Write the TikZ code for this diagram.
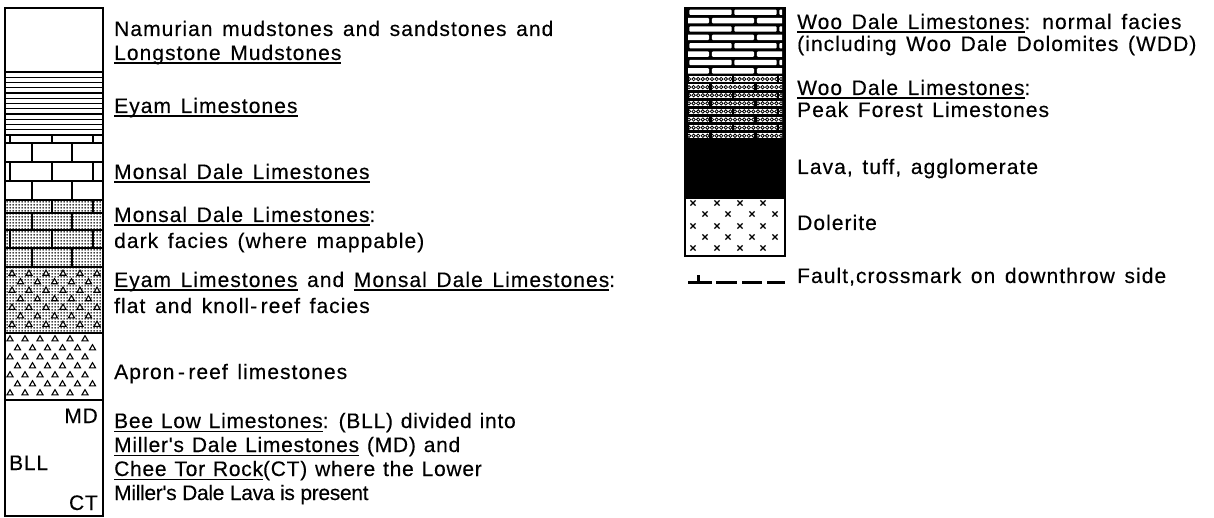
\documentclass[tikz,border=0pt]{standalone}
\usepackage{fontspec}
\usetikzlibrary{patterns}
\newfontfamily\labfont[LetterSpace=5,WordSpace=1.4,FakeBold=0.3]{Liberation Sans}
\newfontfamily\labtight[LetterSpace=3.5,WordSpace=1.2,FakeBold=0.3]{Liberation Sans}
\newfontfamily\labnarrow[LetterSpace=-1.5,WordSpace=1.0,FakeBold=0.3]{Liberation Sans}
\newcommand\ulx[1]{\setbox0\hbox{#1}\rlap{\rule[-3.8pt]{\wd0}{1.3pt}}\box0\relax}
\pgfdeclarepatternformonly{stip}{\pgfqpoint{0pt}{0pt}}{\pgfqpoint{3pt}{3pt}}{\pgfqpoint{3pt}{3pt}}{\pgfpathcircle{\pgfqpoint{1.5pt}{1.5pt}}{1.15pt}\pgfusepath{fill}}
\newcommand\trim[2]{\draw[trist] (#1-3,#2+2.3) -- (#1+3,#2+2.3) -- (#1,#2-2.8) -- cycle;}
\newcommand\xmk[2]{\draw[xst] (#1-2.6,#2-2.6) -- (#1+2.6,#2+2.6) (#1-2.6,#2+2.6) -- (#1+2.6,#2-2.6);}
\begin{document}
\begin{tikzpicture}[x=1pt,y=-1pt,
  lab/.style={anchor=base west,inner sep=0pt,font=\labfont\fontsize{21}{24}\selectfont},
  labB/.style={lab,font=\labtight\fontsize{21}{24}\selectfont},
  labN/.style={lab,font=\labnarrow\fontsize{21}{24}\selectfont},
  labr/.style={labB,anchor=base east},
  box/.style={line width=2.2pt},
  hl/.style={line width=1.3pt},
  trist/.style={line width=1.1pt,fill=white},
  xst/.style={line width=1.3pt},
  fault/.style={line width=3pt}]
\useasboundingbox (0,0) rectangle (1214,518);
\fill[white] (0,0) rectangle (1214,518);
% ---------- left column ----------
% Eyam Limestones: horizontal lines
\foreach \k in {1,...,11} \draw[hl] (5,72+5.25*\k) -- (103,72+5.25*\k);
% Monsal Dale: bricks
\draw[hl] (5,143) -- (103,143) (5,162) -- (103,162) (5,181) -- (103,181);
\draw[hl] (10,135) -- (10,143) (52,135) -- (52,143) (93,135) -- (93,143)
          (32,143) -- (32,162) (72,143) -- (72,162)
          (10,162) -- (10,181) (52,162) -- (52,181) (93,162) -- (93,181)
          (32,181) -- (32,200) (72,181) -- (72,200);
% Monsal Dale dark facies: stipple + bricks
\fill[pattern=stip] (5,200) rectangle (103,267);
\draw[hl] (5,213) -- (103,213) (5,230) -- (103,230) (5,248) -- (103,248);
\draw[hl] (52,200) -- (52,213) (93,200) -- (93,213)
          (32,213) -- (32,230) (72,213) -- (72,230)
          (10,230) -- (10,248) (52,230) -- (52,248) (93,230) -- (93,248)
          (32,248) -- (32,267) (72,248) -- (72,267);
% knoll-reef: stipple + triangles
\fill[pattern=stip] (5,267) rectangle (103,333);
\foreach \j in {0,...,3} \foreach \i in {0,...,5} {\trim{12+17*\i}{273+17*\j}}
\foreach \j in {0,...,2} \foreach \i in {0,...,4} {\trim{20.5+17*\i}{281.5+17*\j}}
% apron-reef: triangles
\foreach \j in {0,...,3} \foreach \i in {0,...,5} {\trim{10+15*\i}{338.5+18*\j}}
\foreach \j in {0,...,2} \foreach \i in {0,...,5} {\trim{17.5+15*\i}{347.5+18*\j}}
% borders
\draw[box] (5,8) rectangle (103,516);
\foreach \y in {72,135,200,267,333,400} \draw[box] (5,\y) -- (103,\y);
\node[labr] (md) at (98,423) {MD};
\node[labB] (bll) at (9,470) {BLL};
\node[labr] (ct) at (98,510) {CT};
% ---------- right column ----------
\fill[black] (685,8) rectangle (785,140);
\begin{scope}
\clip (688,9.5) rectangle (782,75);
\foreach \r [evaluate=\r as \o using {mod(\r,2)*22.5}] in {0,...,7}
  \foreach \k in {-1,0,1,2}
    \fill[white,rounded corners=1pt] (688+45*\k+1.3+\o,8+8.375*\r+1.6) rectangle (688+45*\k+43.7+\o,8+8.375*\r+6.9);
\end{scope}
\begin{scope}
\clip (688,75) rectangle (782,138);
\foreach \r [evaluate=\r as \o using {mod(\r,2)*22.5}] in {0,...,7}
  \foreach \k in {-1,0,1,2}
    \fill[white] (688+45*\k+1.2+\o,75+8.1*\r+1.4) rectangle (688+45*\k+43.8+\o,75+8.1*\r+6.7);
\foreach \r in {0,...,7}
  \foreach \i in {0,...,20}
    \draw[line width=0.8pt] (689+4.6*\i,75+8.1*\r+4.05) circle[radius=1.7];
\end{scope}
% lava
\fill[black] (685,140) rectangle (785,198);
% dolerite
\foreach \y in {203,226,248} \foreach \x in {693,717,740,763} {\xmk{\x}{\y}}
\foreach \y in {214,237} \foreach \x in {705,728,752,775} {\xmk{\x}{\y}}
\draw[box] (685,8) rectangle (785,256);
\foreach \y in {75,140,198} \draw[box] (685,\y) -- (785,\y);
% fault symbol
\coordinate (f0) at (688,283);
\coordinate (f1) at (785,283);
\coordinate (ft) at (698,283);
\coordinate (fu) at (698,275.5);
\draw[fault,dash pattern=on 24pt off 4pt on 21pt off 5pt on 20pt off 5pt on 20pt] (f0) -- (f1);
\draw[fault] (ft) -- (fu);
% ---------- labels ----------
\node[lab] (t1) at (114,36) {Namurian mudstones and sandstones and};
\node[lab] (t2) at (114,60) {\ulx{Longstone Mudstones}};
\node[lab] (t3) at (114,113) {\ulx{Eyam Limestones}};
\node[lab] (t4) at (114,179) {\ulx{Monsal Dale Limestones}};
\node[lab] (t5) at (114,222) {\ulx{Monsal Dale Limestones}:};
\node[lab] (t6) at (114,248) {dark facies (where mappable)};
\node[lab] (t7) at (114,287) {\ulx{Eyam Limestones} and \ulx{Monsal Dale Limestones}:};
\node[lab] (t8) at (114,313) {flat and knoll-\,reef facies};
\node[lab] (t9) at (114,379) {Apron\,-\,reef limestones};
\node[labB] (t10) at (114,428) {\ulx{Bee Low Limestones}: (BLL) divided into};
\node[labB] (t11) at (114,452) {\ulx{Miller's Dale Limestones} (MD) and};
\node[labB] (t12) at (114,476) {\ulx{Chee Tor Rock}(CT) where the Lower};
\node[labN] (t13) at (114,500) {Miller's Dale Lava is present};
\node[lab] (r1) at (797,29) {\ulx{Woo Dale Limestones}: normal facies};
\node[lab] (r2) at (797,51) {(including Woo Dale Dolomites (WDD)};
\node[lab] (r3) at (797,95) {\ulx{Woo Dale Limestones}:};
\node[lab] (r4) at (797,117) {Peak Forest Limestones};
\node[lab] (r5) at (797,174) {Lava, tuff, agglomerate};
\node[lab] (r6) at (797,230) {Dolerite};
\node[lab] (r7) at (797,283) {Fault,crossmark on downthrow side};
\end{tikzpicture}
\end{document}
